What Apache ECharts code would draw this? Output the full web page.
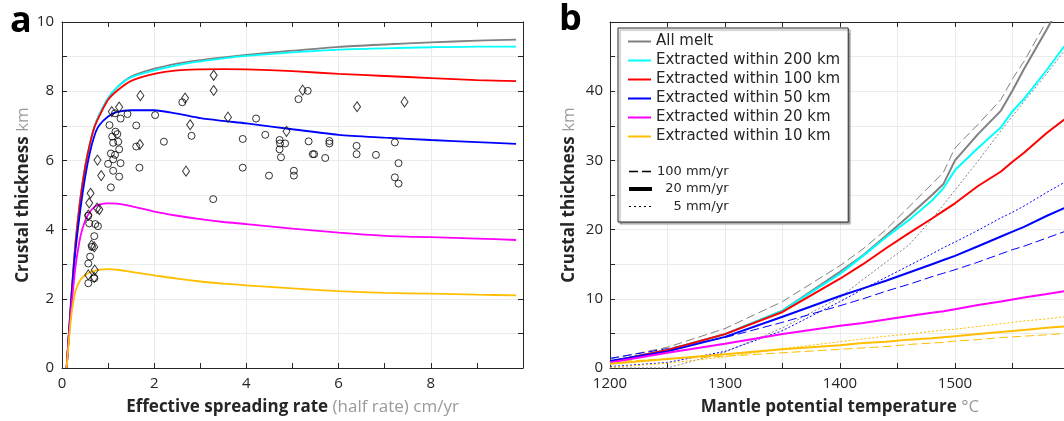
<!DOCTYPE html>
<html><head><meta charset="utf-8">
<script src="https://cdn.jsdelivr.net/npm/echarts@6/dist/echarts.min.js"></script>
<style>html,body{margin:0;padding:0;background:#fff}#c{width:1064px;height:421px}</style>
</head><body><div id="c"></div>
<script>
// ---------- Panel a: crustal thickness vs effective spreading rate ----------
const rateX = [0.1,0.15,0.2,0.25,0.3,0.4,0.5,0.6,0.7,0.8,1,1.2,1.5,2,2.5,3,3.5,4,5,6,7,8,9,9.85];
const aAllMelt = [0,1.0,2.0,2.9,3.7,4.9,5.8,6.45,6.95,7.3,7.8,8.12,8.42,8.65,8.8,8.9,8.98,9.05,9.17,9.28,9.35,9.41,9.46,9.49];
const aWithin200 = [0,1.0,2.0,2.9,3.7,4.9,5.8,6.45,6.95,7.3,7.8,8.12,8.4,8.6,8.75,8.86,8.95,9.02,9.12,9.2,9.24,9.27,9.29,9.29];
const aWithin100 = [0,1.0,2.0,2.9,3.7,4.9,5.8,6.45,6.95,7.25,7.75,8.02,8.3,8.5,8.6,8.63,8.64,8.63,8.58,8.5,8.44,8.38,8.32,8.29];
const aWithin50 = [0,1.0,1.9,2.8,3.5,4.6,5.5,6.2,6.7,7.0,7.27,7.4,7.45,7.45,7.35,7.22,7.14,7.07,6.9,6.74,6.66,6.59,6.53,6.48];
const aWithin20 = [0,0.9,1.7,2.4,3.0,3.8,4.25,4.5,4.65,4.72,4.76,4.75,4.68,4.52,4.4,4.3,4.22,4.16,4.03,3.91,3.82,3.78,3.74,3.70];
const aWithin10 = [0,0.8,1.5,1.95,2.25,2.55,2.68,2.76,2.81,2.84,2.86,2.84,2.78,2.68,2.58,2.5,2.44,2.39,2.3,2.22,2.17,2.15,2.12,2.10];
const obsCircles = [[1.42,7.34],[1.27,7.21],[1.15,7.36],[1.03,7.02],[1.16,6.83],[1.20,6.76],[1.09,6.69],[1.22,6.54],[1.11,6.51],[1.24,6.32],[1.06,6.20],[1.15,6.16],[1.11,6.03],[1.27,5.92],[1.00,5.90],[1.11,5.70],[1.24,5.53],[1.06,5.22],[1.61,7.01],[1.61,6.40],[1.68,5.79],[2.02,7.31],[2.21,6.54],[2.61,7.68],[2.81,6.71],[3.28,4.88],[3.92,6.62],[3.92,5.79],[4.21,7.21],[4.41,6.74],[4.49,5.56],[4.72,6.59],[4.73,6.49],[4.84,6.49],[4.72,6.32],[4.75,6.09],[5.03,5.70],[5.03,5.56],[5.13,7.77],[5.33,8.01],[5.35,6.55],[5.44,6.18],[5.47,6.18],[5.71,6.07],[5.80,6.56],[5.80,6.49],[6.39,6.42],[6.39,6.18],[6.81,6.16],[7.22,6.52],[7.30,5.92],[7.22,5.51],[7.30,5.33],[0.57,4.40],[0.59,4.18],[0.72,4.16],[0.78,4.10],[0.70,3.81],[0.65,3.50],[0.61,3.22],[0.57,3.02],[0.57,2.45],[0.70,2.59]];
const obsDiamonds = [[1.08,7.41],[1.24,7.54],[1.70,7.87],[1.69,6.46],[0.77,6.01],[0.85,5.56],[0.62,5.05],[0.59,4.77],[0.57,4.42],[0.76,4.62],[0.81,4.58],[0.64,3.55],[0.70,3.50],[0.57,2.69],[0.71,2.83],[0.70,2.62],[2.67,7.80],[2.78,7.03],[2.69,5.69],[3.29,8.46],[3.29,8.02],[3.60,7.25],[4.87,6.84],[5.22,8.03],[6.40,7.55],[7.43,7.69]];

// ---------- Panel b: crustal thickness vs mantle potential temperature ----------
const tempX = [1200,1250,1300,1350,1400,1420,1440,1460,1480,1490,1500,1520,1540,1550,1560,1580,1595];
const bAllMelt20 = [0.9,2.6,4.9,8.3,13.9,16.3,19.1,22.0,25.0,26.6,30.0,33.8,37.2,40.1,43.2,49.0,53.5];
const bWithin200_20 = [0.9,2.6,4.9,8.3,13.6,16.2,18.9,21.4,24.2,26.0,28.6,31.8,34.8,37.1,38.9,43.1,46.5];
const bWithin100_20 = [0.9,2.6,4.9,8.1,12.9,15.0,17.3,19.5,21.6,22.7,23.8,26.3,28.4,29.8,31.1,34.0,35.9];
const bWithin50_20 = [1.0,2.4,4.5,7.4,10.4,11.5,12.6,13.8,15.0,15.6,16.2,17.6,19.0,19.7,20.4,22.0,23.1];
const bWithin20_20 = [0.8,2.2,3.5,4.9,6.1,6.5,7.0,7.5,8.0,8.2,8.5,9.1,9.6,9.9,10.2,10.7,11.1];
const bWithin10_20 = [0.6,1.3,2.0,2.7,3.3,3.6,3.8,4.1,4.3,4.45,4.6,4.9,5.2,5.35,5.5,5.8,6.0];
const bAllMelt100 = [1.3,3.0,5.7,9.6,14.8,17.2,20.0,23.3,26.6,28.3,31.8,35.2,38.8,41.8,44.3,50.2,54.5];
const bWithin50_100 = [1.4,2.8,4.4,6.6,9.0,10.0,11.1,12.1,13.2,13.7,14.2,15.3,16.5,17.1,17.6,18.8,19.7];
const bWithin10_100 = [0.9,1.3,1.7,2.2,2.7,2.9,3.1,3.4,3.6,3.7,3.9,4.1,4.4,4.5,4.6,4.8,5.0];
const bAllMelt5 = [0,0,2.3,5.8,10.2,12.8,15.3,17.8,21.5,23.6,25.7,29.9,34.3,36.4,38.5,42.6,45.8];
const bWithin50_5 = [0.2,0.8,2.4,5.4,9.6,11.4,13.1,14.8,16.5,17.4,18.2,19.9,21.7,22.5,23.4,25.4,26.8];
const bWithin10_5 = [0.1,0.7,1.6,2.8,3.8,4.2,4.6,4.9,5.3,5.5,5.6,6.0,6.4,6.6,6.8,7.1,7.4];

const legendNames = ['All melt','Extracted within 200 km','Extracted within 100 km','Extracted within 50 km','Extracted within 20 km','Extracted within 10 km'];
const rateNames = ['100 mm/yr','20 mm/yr','5 mm/yr'];
const aXTicks = [0,2,4,6,8];

const C = {gray:'#808080', cyan:'#00ffff', red:'#ff0000', blue:'#0000ff', magenta:'#ff00ff', orange:'#ffbf00'};
const AX = '#262626';
const FONT = '"Open Sans", "Noto Sans", sans-serif';

function zip(xs, ys){ return xs.map((x,i)=>[x, ys[i]]); }

function baseAxis(extra){
  return Object.assign({
    type:'value',
    axisLine:{show:true, onZero:false, lineStyle:{color:AX, width:1}},
    axisTick:{show:true, inside:true, length:5, lineStyle:{color:AX}},
    axisLabel:{color:AX, fontFamily:FONT, fontSize:15, margin:8},
    splitLine:{show:false},
    nameTextStyle:{fontFamily:FONT, fontSize:17, color:AX,
      rich:{b:{fontFamily:FONT, fontSize:17, fontWeight:'bold', color:AX}, g:{fontFamily:FONT, fontSize:17, color:'#9a9a9a'}}}
  }, extra);
}
const grid = {lineStyle:{color:'#ebebeb', width:1}};

const xAxes = [
  baseAxis({gridIndex:0, position:'bottom', min:0, max:10, interval:2,
    minorTick:{show:true, splitNumber:2, length:5, lineStyle:{color:AX}},
    splitLine:Object.assign({show:true}, grid),
    axisLabel:{color:AX, fontFamily:FONT, fontSize:15, margin:8, formatter:v=> aXTicks.includes(v)? String(v):''},
    name:'{b|Effective spreading rate} {g|(half rate) cm/yr}', nameLocation:'middle', nameGap:31}),
  baseAxis({gridIndex:0, position:'top', min:0, max:10, interval:2,
    minorTick:{show:true, splitNumber:2, length:5, lineStyle:{color:AX}},
    axisLabel:{show:false}}),
  baseAxis({gridIndex:1, position:'bottom', min:1200, max:1600, interval:50,
    splitLine:Object.assign({show:true}, grid),
    axisLabel:{color:AX, fontFamily:FONT, fontSize:15, margin:8, formatter:v=> (v%100===0 && v<1600)? String(v):''},
    name:'{b|Mantle potential temperature} {g|°C}', nameLocation:'middle', nameGap:31}),
  baseAxis({gridIndex:1, position:'top', min:1200, max:1600, interval:50, axisLabel:{show:false}})
];
const yAxes = [
  baseAxis({gridIndex:0, position:'left', min:0, max:10, interval:1,
    splitLine:Object.assign({show:true}, grid),
    axisLabel:{color:AX, fontFamily:FONT, fontSize:15, margin:8, formatter:v=> v%2===0? String(v):''},
    name:'{b|Crustal thickness} {g|km}', nameLocation:'middle', nameGap:30}),
  baseAxis({gridIndex:0, position:'right', min:0, max:10, interval:1, axisLabel:{show:false}}),
  baseAxis({gridIndex:1, position:'left', min:0, max:50, interval:5,
    splitLine:Object.assign({show:true}, grid),
    axisLabel:{color:AX, fontFamily:FONT, fontSize:15, margin:7, formatter:v=> (v%10===0 && v<50)? String(v):''},
    name:'{b|Crustal thickness} {g|km}', nameLocation:'middle', nameGap:32}),
  baseAxis({gridIndex:1, position:'right', min:0, max:50, interval:5, axisLabel:{show:false}})
];

function lineA(name, ys, color){
  return {type:'line', name:name, xAxisIndex:0, yAxisIndex:0, data:zip(rateX, ys), showSymbol:false, symbol:'none',
    smooth:0.25, lineStyle:{color:color, width:1.8}, itemStyle:{color:color}, silent:true, animation:false, z:2};
}
function lineB(name, ys, color, type, width){
  return {type:'line', name:name, xAxisIndex:2, yAxisIndex:2, data:zip(tempX, ys), showSymbol:false, symbol:'none',
    lineStyle:{color:color, width:width, type:type}, itemStyle:{color:color}, silent:true, animation:false, clip:true, z:2};
}
function dummy(name, width, dash){
  return {type:'line', name:name, xAxisIndex:2, yAxisIndex:2, data:[], showSymbol:false, symbol:'none',
    lineStyle:{color:'#000', width:width, type:dash}, itemStyle:{color:'#000'}, animation:false};
}

const series = [
  lineA(legendNames[0], aAllMelt, C.gray),
  lineA(legendNames[1], aWithin200, C.cyan),
  lineA(legendNames[2], aWithin100, C.red),
  lineA(legendNames[3], aWithin50, C.blue),
  lineA(legendNames[4], aWithin20, C.magenta),
  lineA(legendNames[5], aWithin10, C.orange),
  {type:'scatter', name:'obs circles', xAxisIndex:0, yAxisIndex:0, data:obsCircles, symbol:'circle', symbolSize:7,
    itemStyle:{color:'rgba(0,0,0,0)', borderColor:'#000', borderWidth:1}, silent:true, animation:false, z:3},
  {type:'scatter', name:'obs diamonds', xAxisIndex:0, yAxisIndex:0, data:obsDiamonds, symbol:'diamond', symbolSize:[7,10],
    itemStyle:{color:'rgba(0,0,0,0)', borderColor:'#000', borderWidth:1}, silent:true, animation:false, z:3},
  lineB('All melt 100', bAllMelt100, C.gray, [9,4], 1),
  lineB('All melt 5', bAllMelt5, C.gray, [2,2], 1),
  lineB('50 km 100', bWithin50_100, C.blue, [9,4], 1),
  lineB('50 km 5', bWithin50_5, C.blue, [2,2], 1),
  lineB('10 km 100', bWithin10_100, C.orange, [9,4], 1),
  lineB('10 km 5', bWithin10_5, C.orange, [2,2], 1),
  lineB(legendNames[0], bAllMelt20, C.gray, 'solid', 2),
  lineB(legendNames[1], bWithin200_20, C.cyan, 'solid', 2),
  lineB(legendNames[2], bWithin100_20, C.red, 'solid', 2),
  lineB(legendNames[3], bWithin50_20, C.blue, 'solid', 2),
  lineB(legendNames[4], bWithin20_20, C.magenta, 'solid', 2),
  lineB(legendNames[5], bWithin10_20, C.orange, 'solid', 2),
  dummy(rateNames[0], 1.3, [9,4]),
  dummy(rateNames[1], 4, 'solid'),
  dummy(rateNames[2], 1, [2,3])
];

const ratePad = {'100 mm/yr':'100 mm/yr', '20 mm/yr':'  20 mm/yr', '5 mm/yr':'    5 mm/yr'};
const hideSymbol = {opacity:0, borderWidth:0};

const option = {
  animation:false,
  backgroundColor:'#fff',
  grid:[
    {left:62, top:22, width:461, height:346, containLabel:false, outerBoundsMode:'none'},
    {left:610, top:22, width:460, height:346, containLabel:false, outerBoundsMode:'none'}
  ],
  xAxis:xAxes,
  yAxis:yAxes,
  legend:[
    {data:legendNames, orient:'vertical', left:618, top:28, itemWidth:23, itemHeight:14, itemGap:4,
      padding:[6,8,78,9], selectedMode:false, backgroundColor:'#fff', borderColor:AX, borderWidth:1,
      shadowColor:'rgba(0,0,0,0.35)', shadowOffsetX:2, shadowOffsetY:2, shadowBlur:1,
      itemStyle:hideSymbol, lineStyle:{width:2},
      textStyle:{fontFamily:'"DejaVu Sans", sans-serif', fontSize:15, lineHeight:15, color:AX}},
    {data:[{name:rateNames[0], lineStyle:{width:1.3}}, {name:rateNames[1], lineStyle:{width:4}}, {name:rateNames[2], lineStyle:{width:1}}],
      orient:'vertical', left:618, top:165, itemWidth:23, itemHeight:13, itemGap:4.5,
      padding:[0,8,0,9], selectedMode:false, z:5, itemStyle:hideSymbol,
      formatter:n=>ratePad[n],
      textStyle:{fontFamily:'"DejaVu Sans", sans-serif', fontSize:13, lineHeight:13, color:AX}}
  ],
  graphic:[
    {type:'text', left:10, top:4, style:{text:'a', font:'bold 36px "Open Sans", sans-serif', fill:'#000'}},
    {type:'text', left:559, top:2, style:{text:'b', font:'bold 36px "Open Sans", sans-serif', fill:'#000'}}
  ],
  series:series
};
const chart = echarts.init(document.getElementById('c'), null, {renderer:'canvas'});
chart.setOption(option);
</script>
</body></html>
